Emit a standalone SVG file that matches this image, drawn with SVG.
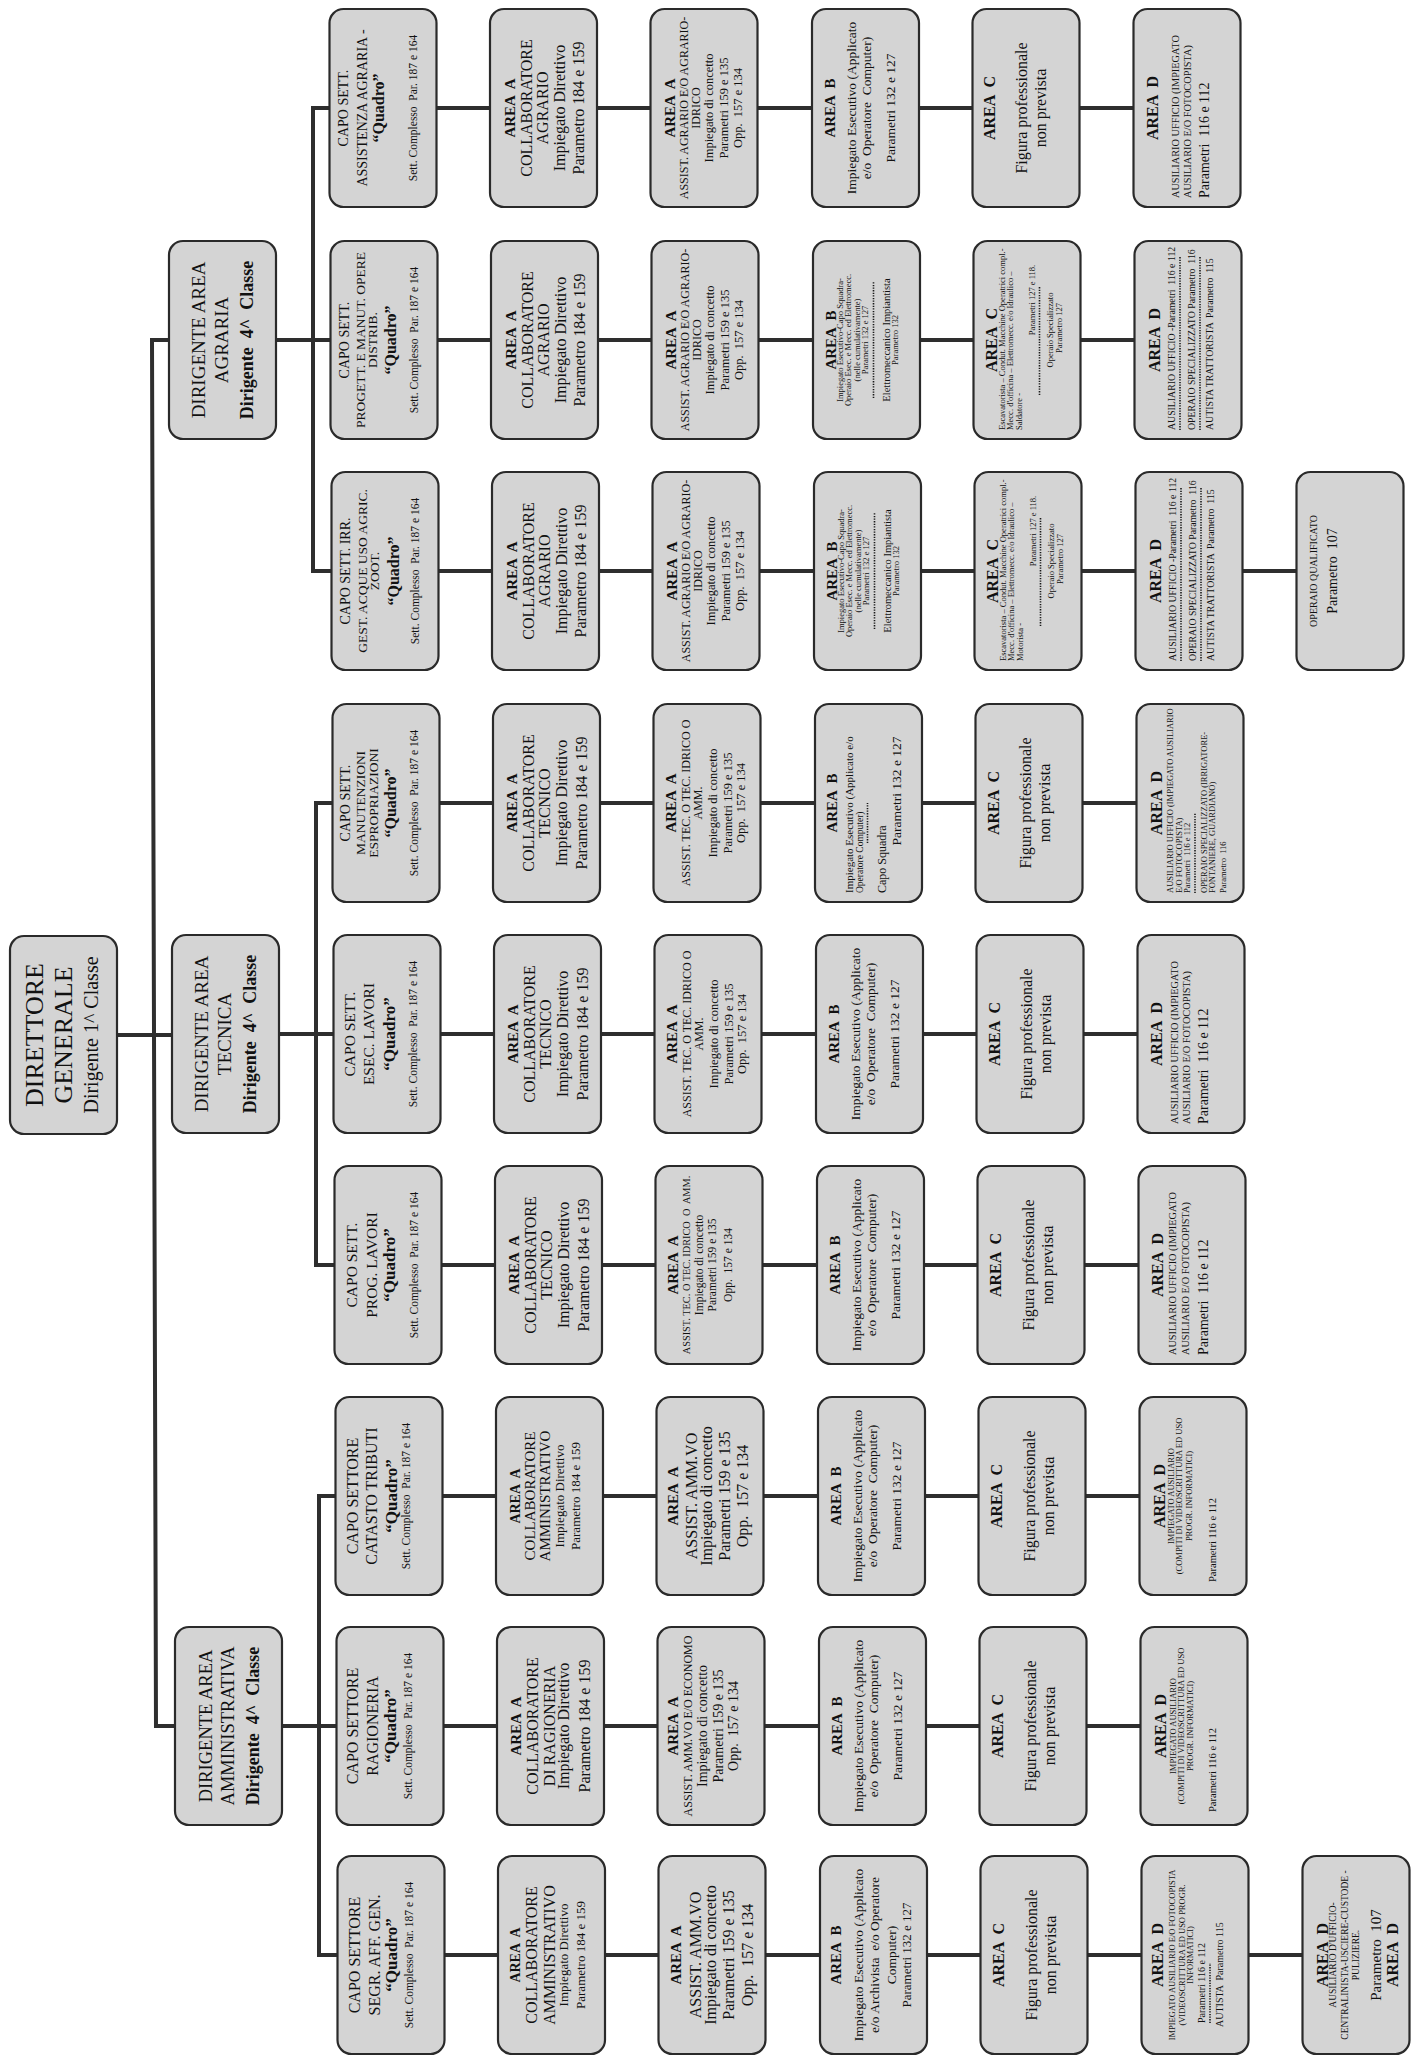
<svg xmlns="http://www.w3.org/2000/svg" xmlns:xlink="http://www.w3.org/1999/xlink" width="1416" height="2058" viewBox="0 0 1416 2058" xml:space="preserve">
<style>
.bx{fill:#d4d4d4;stroke:#2a2a2a;stroke-width:2.2}
text{font-family:"Liberation Serif","Times New Roman",serif;fill:#111111;text-anchor:middle;white-space:pre}
text.s{text-anchor:start}
text.b{font-weight:bold}
.cn line,.cn path{stroke:#2e2e2e;stroke-width:4;fill:none;stroke-linecap:square}
.dot{stroke:#1a1a1a;stroke-width:1.6;stroke-dasharray:1.3 1.3;fill:none}
</style>
<defs>
<rect id="bx" class="bx" x="-99" y="-53.5" width="198" height="107" rx="14"/>
</defs>
<rect width="1416" height="2058" fill="#ffffff"/>
<g id="connectors" class="cn">
<line x1="117" y1="1035" x2="172" y2="1035"/>
<line x1="152" y1="340" x2="156" y2="1726"/>
<line x1="152" y1="340" x2="169" y2="340"/>
<line x1="156" y1="1726" x2="175" y2="1726"/>
<line x1="276" y1="340" x2="330.5" y2="340"/>
<line x1="313" y1="108" x2="313" y2="571"/>
<line x1="313" y1="108" x2="329.5" y2="108"/>
<line x1="313" y1="571" x2="331.5" y2="571"/>
<line x1="279" y1="1034" x2="333.5" y2="1034"/>
<line x1="316" y1="803" x2="316" y2="1265"/>
<line x1="316" y1="803" x2="332.5" y2="803"/>
<line x1="316" y1="1265" x2="334.5" y2="1265"/>
<line x1="282" y1="1726" x2="336.5" y2="1726"/>
<line x1="319" y1="1496" x2="319" y2="1955"/>
<line x1="319" y1="1496" x2="335.5" y2="1496"/>
<line x1="319" y1="1955" x2="337.5" y2="1955"/>
<path transform="translate(0,0)" d="M436.5 108H490M597 108H650.5M757.5 108H812M919 108H972.5M1079.5 108H1133.5"/>
<path transform="translate(1,0)" d="M436.5 340H490M597 340H650.5M757.5 340H812M919 340H972.5M1079.5 340H1133.5"/>
<path transform="translate(2,0)" d="M436.5 571H490M597 571H650.5M757.5 571H812M919 571H972.5M1079.5 571H1133.5M1240.5 571H1294.5"/>
<path transform="translate(3,0)" d="M436.5 803H490M597 803H650.5M757.5 803H812M919 803H972.5M1079.5 803H1133.5"/>
<path transform="translate(4,0)" d="M436.5 1034H490M597 1034H650.5M757.5 1034H812M919 1034H972.5M1079.5 1034H1133.5"/>
<path transform="translate(5,0)" d="M436.5 1265H490M597 1265H650.5M757.5 1265H812M919 1265H972.5M1079.5 1265H1133.5"/>
<path transform="translate(6,0)" d="M436.5 1496H490M597 1496H650.5M757.5 1496H812M919 1496H972.5M1079.5 1496H1133.5"/>
<path transform="translate(7,0)" d="M436.5 1726H490M597 1726H650.5M757.5 1726H812M919 1726H972.5M1079.5 1726H1133.5"/>
<path transform="translate(8,0)" d="M436.5 1955H490M597 1955H650.5M757.5 1955H812M919 1955H972.5M1079.5 1955H1133.5M1240.5 1955H1294.5"/>
</g>

<g id="n-direttore" transform="translate(63.5,1035) rotate(-90)"><use href="#bx"/>
<text font-size="26" y="-21">DIRETTORE</text>
<text font-size="26" y="8.5">GENERALE</text>
<text font-size="20" y="34">Dirigente 1^ Classe</text></g>

<g id="n-dir-agraria" transform="translate(222.5,340) rotate(-90)"><use href="#bx"/>
<text font-size="19" y="-17.5">DIRIGENTE AREA</text>
<text font-size="19" y="5.5">AGRARIA</text>
<text class="b" font-size="18" y="30.5">Dirigente  4^  Classe</text></g>
<g id="n-dir-tecnica" transform="translate(225.5,1034) rotate(-90)"><use href="#bx"/>
<text font-size="19" y="-17.5">DIRIGENTE AREA</text>
<text font-size="19" y="5.5">TECNICA</text>
<text class="b" font-size="18" y="30.5">Dirigente  4^  Classe</text></g>
<g id="n-dir-amm" transform="translate(228.5,1726) rotate(-90)"><use href="#bx"/>
<text font-size="18.5" y="-17">DIRIGENTE AREA</text>
<text font-size="18.5" y="5">AMMINISTRATIVA</text>
<text class="b" font-size="18" y="30">Dirigente  4^  Classe</text></g>

<!-- ROW 0 -->
<g id="r0-capo" transform="translate(383,108) rotate(-90)"><use href="#bx"/>
<text font-size="14" y="-35">CAPO SETT.</text>
<text font-size="14" y="-16">ASSISTENZA AGRARIA -</text>
<text class="b" font-size="16" y="1">“Quadro”</text>
<text font-size="11.5" y="34">Sett. Complesso  Par. 187 e 164</text></g>
<g id="r0-a1" transform="translate(543.5,108) rotate(-90)"><use href="#bx"/>
<text class="b" font-size="15" y="-29">AREA  A</text>
<text font-size="16" y="-12">COLLABORATORE</text>
<text font-size="16" y="4.5">AGRARIO</text>
<text font-size="16" y="21">Impiegato Direttivo</text>
<text font-size="16" y="40.5">Parametro 184 e 159</text></g>
<g id="r0-a2" transform="translate(704,108) rotate(-90)"><use href="#bx"/>
<text class="b" font-size="15" y="-29.5">AREA  A</text>
<text font-size="12" y="-16.5">ASSIST. AGRARIO E/O AGRARIO-</text>
<text font-size="12" y="-4.5">IDRICO</text>
<text font-size="12.5" y="8.5">Impiegato di concetto</text>
<text font-size="12.5" y="23.5">Parametri 159 e 135</text>
<text font-size="12.5" y="37.5">Opp.  157 e 134</text></g>
<g id="r0-b" transform="translate(865.5,108) rotate(-90)"><use href="#bx"/>
<text class="b" font-size="15" y="-31">AREA  B</text>
<text font-size="13.5" y="-10">Impiegato Esecutivo (Applicato</text>
<text font-size="13.5" y="5.5">e/o  Operatore  Computer)</text>
<text font-size="13.5" y="29">Parametri 132 e 127</text></g>
<g id="r0-c" transform="translate(1026,108) rotate(-90)"><use href="#bx"/>
<text class="b" font-size="16" y="-31">AREA  C</text>
<text font-size="16" y="1">Figura professionale</text>
<text font-size="16" y="20">non prevista</text></g>
<g id="r0-d" transform="translate(1187,108) rotate(-90)"><use href="#bx"/>
<text class="b" font-size="16" y="-29.5">AREA  D</text>
<text class="s" font-size="10.3" x="-90" y="-8">AUSILIARIO UFFICIO (IMPIEGATO</text>
<text class="s" font-size="10.3" x="-90" y="4">AUSILIARIO E/O FOTOCOPISTA)</text>
<text class="s" font-size="14" x="-90" y="22">Parametri  116 e 112</text></g>

<!-- ROW 1 -->
<g id="r1-capo" transform="translate(384,340) rotate(-90)"><use href="#bx"/>
<text font-size="14" y="-35.5">CAPO SETT.</text>
<text font-size="13.5" y="-19">PROGETT. E MANUT. OPERE</text>
<text font-size="13.5" y="-7">DISTRIB.</text>
<text class="b" font-size="16" y="12">“Quadro”</text>
<text font-size="11.5" y="34">Sett. Complesso  Par. 187 e 164</text></g>
<g id="r1-a1" transform="translate(544.5,340) rotate(-90)"><use href="#bx"/>
<text class="b" font-size="15" y="-29">AREA  A</text>
<text font-size="16" y="-12">COLLABORATORE</text>
<text font-size="16" y="4.5">AGRARIO</text>
<text font-size="16" y="21">Impiegato Direttivo</text>
<text font-size="16" y="40.5">Parametro 184 e 159</text></g>
<g id="r1-a2" transform="translate(705,340) rotate(-90)"><use href="#bx"/>
<text class="b" font-size="15" y="-29.5">AREA  A</text>
<text font-size="12" y="-16.5">ASSIST. AGRARIO E/O AGRARIO-</text>
<text font-size="12" y="-4.5">IDRICO</text>
<text font-size="12.5" y="8.5">Impiegato di concetto</text>
<text font-size="12.5" y="23.5">Parametri 159 e 135</text>
<text font-size="12.5" y="37.5">Opp.  157 e 134</text></g>
<g id="r1-b" transform="translate(866.5,340) rotate(-90)"><use href="#bx"/>
<text class="b" font-size="15" y="-31">AREA  B</text>
<text font-size="8.5" y="-24">Impiegato Esecutivo-Capo Squadra-</text>
<text font-size="8.5" y="-15.5">Operaio Esec. e Mecc. ed Elettromecc.</text>
<text font-size="8.5" y="-7">(nelle cumulativamente)</text>
<text font-size="8.5" y="1.5">Parametri 132 e 127</text>
<line class="dot" x1="-58" y1="7" x2="58" y2="7"/>
<text font-size="10.5" y="23">Elettromeccanico Impiantista</text>
<text font-size="8.5" y="31">Parametro 132</text></g>
<g id="r1-c" transform="translate(1027,340) rotate(-90)"><use href="#bx"/>
<text class="b" font-size="16" y="-30">AREA  C</text>
<text class="s" font-size="8.5" x="-90" y="-22">Escavatorista – Condut. Macchine Operatrici compl.-</text>
<text class="s" font-size="8.5" x="-90" y="-14">Mecc. d'officina – Elettromecc. e/o Idraulico –</text>
<text class="s" font-size="8.5" x="-90" y="-5.5">Saldatore -</text>
<text font-size="8.5" x="40" y="8">Parametri 127 e 118.</text>
<line class="dot" x1="-55" y1="12.5" x2="53" y2="12.5"/>
<text font-size="8.5" x="10" y="26">Operaio Specializzato</text>
<text font-size="8.5" x="12" y="34.5">Parametro 127</text></g>
<g id="r1-d" transform="translate(1188,340) rotate(-90)"><use href="#bx"/>
<text class="b" font-size="16" y="-28">AREA  D</text>
<text class="s" font-size="9.8" x="-90" y="-13">AUSILIARIO UFFICIO -Parametri  116 e 112</text>
<line class="dot" x1="-90" y1="-8" x2="83" y2="-8"/>
<text class="s" font-size="9.8" x="-90" y="7">OPERAIO SPECIALIZZATO Parametro  116</text>
<line class="dot" x1="-90" y1="12" x2="83" y2="12"/>
<text class="s" font-size="9.8" x="-90" y="25">AUTISTA TRATTORISTA  Parametro  115</text></g>

<!-- ROW 2 -->
<g id="r2-capo" transform="translate(385,571) rotate(-90)"><use href="#bx"/>
<text font-size="14" y="-35">CAPO SETT. IRR.</text>
<text font-size="13.5" y="-18.5">GEST. ACQUE USO AGRIC.</text>
<text font-size="13.5" y="-6.5">ZOOT.</text>
<text class="b" font-size="16" y="14">“Quadro”</text>
<text font-size="11.5" y="34">Sett. Complesso  Par. 187 e 164</text></g>
<g id="r2-a1" transform="translate(545.5,571) rotate(-90)"><use href="#bx"/>
<text class="b" font-size="15" y="-29">AREA  A</text>
<text font-size="16" y="-12">COLLABORATORE</text>
<text font-size="16" y="4.5">AGRARIO</text>
<text font-size="16" y="21">Impiegato Direttivo</text>
<text font-size="16" y="40.5">Parametro 184 e 159</text></g>
<g id="r2-a2" transform="translate(706,571) rotate(-90)"><use href="#bx"/>
<text class="b" font-size="15" y="-29.5">AREA  A</text>
<text font-size="12" y="-16.5">ASSIST. AGRARIO E/O AGRARIO-</text>
<text font-size="12" y="-4.5">IDRICO</text>
<text font-size="12.5" y="8.5">Impiegato di concetto</text>
<text font-size="12.5" y="23.5">Parametri 159 e 135</text>
<text font-size="12.5" y="37.5">Opp.  157 e 134</text></g>
<g id="r2-b" transform="translate(867.5,571) rotate(-90)"><use href="#bx"/>
<text class="b" font-size="15" y="-31">AREA  B</text>
<text font-size="8.5" y="-24">Impiegato Esecutivo-Capo Squadra-</text>
<text font-size="8.5" y="-15.5">Operaio Esec. e Mecc. ed Elettromecc.</text>
<text font-size="8.5" y="-7">(nelle cumulativamente)</text>
<text font-size="8.5" y="1.5">Parametri 132 e 127</text>
<line class="dot" x1="-58" y1="7" x2="58" y2="7"/>
<text font-size="10.5" y="23">Elettromeccanico Impiantista</text>
<text font-size="8.5" y="31">Parametro 132</text></g>
<g id="r2-c" transform="translate(1028,571) rotate(-90)"><use href="#bx"/>
<text class="b" font-size="16" y="-30">AREA  C</text>
<text class="s" font-size="8.5" x="-90" y="-22">Escavatorista – Condut. Macchine Operatrici compl.-</text>
<text class="s" font-size="8.5" x="-90" y="-14">Mecc. d'officina – Elettromecc. e/o Idraulico –</text>
<text class="s" font-size="8.5" x="-90" y="-5.5">Motorista -</text>
<text font-size="8.5" x="40" y="8">Parametri 127 e 118.</text>
<line class="dot" x1="-55" y1="12.5" x2="53" y2="12.5"/>
<text font-size="8.5" x="10" y="26">Operaio Specializzato</text>
<text font-size="8.5" x="12" y="34.5">Parametro 127</text></g>
<g id="r2-d" transform="translate(1189,571) rotate(-90)"><use href="#bx"/>
<text class="b" font-size="16" y="-28">AREA  D</text>
<text class="s" font-size="9.8" x="-90" y="-13">AUSILIARIO UFFICIO -Parametri  116 e 112</text>
<line class="dot" x1="-90" y1="-8" x2="83" y2="-8"/>
<text class="s" font-size="9.8" x="-90" y="7">OPERAIO SPECIALIZZATO Parametro  116</text>
<line class="dot" x1="-90" y1="12" x2="83" y2="12"/>
<text class="s" font-size="9.8" x="-90" y="25">AUTISTA TRATTORISTA  Parametro  115</text></g>
<g id="r2-e" transform="translate(1350,571) rotate(-90)"><use href="#bx"/>
<text font-size="10" y="-33">OPERAIO QUALIFICATO</text>
<text font-size="14" y="-13">Parametro  107</text></g>

<!-- ROW 3 -->
<g id="r3-capo" transform="translate(386,803) rotate(-90)"><use href="#bx"/>
<text font-size="14" y="-36">CAPO SETT.</text>
<text font-size="13.5" y="-21">MANUTENZIONI</text>
<text font-size="13.5" y="-8">ESPROPRIAZIONI</text>
<text class="b" font-size="16" y="10">“Quadro”</text>
<text font-size="11.5" y="32">Sett. Complesso  Par. 187 e 164</text></g>
<g id="r3-a1" transform="translate(546.5,803) rotate(-90)"><use href="#bx"/>
<text class="b" font-size="15" y="-30">AREA  A</text>
<text font-size="16" y="-13">COLLABORATORE</text>
<text font-size="16" y="3.5">TECNICO</text>
<text font-size="16" y="20.5">Impiegato Direttivo</text>
<text font-size="16" y="40">Parametro 184 e 159</text></g>
<g id="r3-a2" transform="translate(707,803) rotate(-90)"><use href="#bx"/>
<text class="b" font-size="15" y="-31">AREA  A</text>
<text font-size="12" y="-17">ASSIST. TEC. O TEC. IDRICO O</text>
<text font-size="12" y="-5">AMM.</text>
<text font-size="12.5" y="9.5">Impiegato di concetto</text>
<text font-size="12.5" y="24.5">Parametri 159 e 135</text>
<text font-size="12.5" y="37.5">Opp.  157 e 134</text></g>
<g id="r3-b" transform="translate(868.5,803) rotate(-90)"><use href="#bx"/>
<text class="b" font-size="15" y="-32">AREA  B</text>
<text class="s" font-size="11" x="-90" y="-16">Impiegato Esecutivo (Applicato e/o</text>
<text class="s" font-size="9.5" x="-90" y="-6">Operatore Computer)</text>
<line class="dot" x1="-40" y1="-1" x2="0" y2="-1"/>
<text class="s" font-size="12" x="-90" y="17">Capo Squadra</text>
<text font-size="13.5" x="12" y="32">Parametri 132 e 127</text></g>
<g id="r3-c" transform="translate(1029,803) rotate(-90)"><use href="#bx"/>
<text class="b" font-size="16" y="-30.5">AREA  C</text>
<text font-size="16" y="2">Figura professionale</text>
<text font-size="16" y="21">non prevista</text></g>
<g id="r3-d" transform="translate(1190,803) rotate(-90)"><use href="#bx"/>
<text class="b" font-size="16" y="-28">AREA  D</text>
<text class="s" font-size="8.5" x="-90" y="-17">AUSILIARIO UFFICIO (IMPIEGATO AUSILIARIO</text>
<text class="s" font-size="8.5" x="-90" y="-8.5">E/O FOTOCOPISTA)</text>
<text class="s" font-size="8.5" x="-90" y="0">Parametri  116 e 112</text>
<line class="dot" x1="-90" y1="5" x2="-10" y2="5"/>
<text class="s" font-size="8.5" x="-90" y="16.5">OPERAIO SPECIALIZZATO (IRRIGATORE-</text>
<text class="s" font-size="8.5" x="-90" y="25">FONTANIERE, GUARDIANO)</text>
<text class="s" font-size="8.5" x="-90" y="36">Parametro  116</text></g>

<!-- ROW 4 -->
<g id="r4-capo" transform="translate(387,1034) rotate(-90)"><use href="#bx"/>
<text font-size="15.5" y="-32">CAPO SETT.</text>
<text font-size="15.5" y="-13">ESEC. LAVORI</text>
<text class="b" font-size="17" y="8">“Quadro”</text>
<text font-size="11.5" y="30">Sett. Complesso  Par. 187 e 164</text></g>
<g id="r4-a1" transform="translate(547.5,1034) rotate(-90)"><use href="#bx"/>
<text class="b" font-size="15" y="-30">AREA  A</text>
<text font-size="16" y="-13">COLLABORATORE</text>
<text font-size="16" y="3.5">TECNICO</text>
<text font-size="16" y="20.5">Impiegato Direttivo</text>
<text font-size="16" y="40">Parametro 184 e 159</text></g>
<g id="r4-a2" transform="translate(708,1034) rotate(-90)"><use href="#bx"/>
<text class="b" font-size="15" y="-31">AREA  A</text>
<text font-size="12" y="-17">ASSIST. TEC. O TEC. IDRICO O</text>
<text font-size="12" y="-5">AMM.</text>
<text font-size="12.5" y="9.5">Impiegato di concetto</text>
<text font-size="12.5" y="24.5">Parametri 159 e 135</text>
<text font-size="12.5" y="37.5">Opp.  157 e 134</text></g>
<g id="r4-b" transform="translate(869.5,1034) rotate(-90)"><use href="#bx"/>
<text class="b" font-size="15" y="-31">AREA  B</text>
<text font-size="13.5" y="-10">Impiegato Esecutivo (Applicato</text>
<text font-size="13.5" y="5">e/o  Operatore  Computer)</text>
<text font-size="13.5" y="29">Parametri 132 e 127</text></g>
<g id="r4-c" transform="translate(1030,1034) rotate(-90)"><use href="#bx"/>
<text class="b" font-size="16" y="-30.5">AREA  C</text>
<text font-size="16" y="2">Figura professionale</text>
<text font-size="16" y="21">non prevista</text></g>
<g id="r4-d" transform="translate(1191,1034) rotate(-90)"><use href="#bx"/>
<text class="b" font-size="16" y="-29.5">AREA  D</text>
<text class="s" font-size="10.3" x="-90" y="-13">AUSILIARIO UFFICIO (IMPIEGATO</text>
<text class="s" font-size="10.3" x="-90" y="-1">AUSILIARIO E/O FOTOCOPISTA)</text>
<text class="s" font-size="14" x="-90" y="17">Parametri  116 e 112</text></g>

<!-- ROW 5 -->
<g id="r5-capo" transform="translate(388,1265) rotate(-90)"><use href="#bx"/>
<text font-size="15.5" y="-31">CAPO SETT.</text>
<text font-size="15.5" y="-11">PROG. LAVORI</text>
<text class="b" font-size="17" y="7">“Quadro”</text>
<text font-size="11.5" y="30">Sett. Complesso  Par. 187 e 164</text></g>
<g id="r5-a1" transform="translate(548.5,1265) rotate(-90)"><use href="#bx"/>
<text class="b" font-size="15" y="-30">AREA  A</text>
<text font-size="16" y="-13">COLLABORATORE</text>
<text font-size="16" y="3.5">TECNICO</text>
<text font-size="16" y="20.5">Impiegato Direttivo</text>
<text font-size="16" y="40">Parametro 184 e 159</text></g>
<g id="r5-a2" transform="translate(709,1265) rotate(-90)"><use href="#bx"/>
<text class="b" font-size="15" y="-31">AREA  A</text>
<text font-size="10.3" y="-19">ASSIST. TEC. O TEC. IDRICO  O  AMM.</text>
<text font-size="11.5" y="-6">Impiegato di concetto</text>
<text font-size="11.5" y="7">Parametri 159 e 135</text>
<text font-size="11.5" y="22.5">Opp.  157 e 134</text></g>
<g id="r5-b" transform="translate(870.5,1265) rotate(-90)"><use href="#bx"/>
<text class="b" font-size="15" y="-31">AREA  B</text>
<text font-size="13.5" y="-10">Impiegato Esecutivo (Applicato</text>
<text font-size="13.5" y="5">e/o  Operatore  Computer)</text>
<text font-size="13.5" y="29">Parametri 132 e 127</text></g>
<g id="r5-c" transform="translate(1031,1265) rotate(-90)"><use href="#bx"/>
<text class="b" font-size="16" y="-30.5">AREA  C</text>
<text font-size="16" y="3">Figura professionale</text>
<text font-size="16" y="22">non prevista</text></g>
<g id="r5-d" transform="translate(1192,1265) rotate(-90)"><use href="#bx"/>
<text class="b" font-size="16" y="-29.5">AREA  D</text>
<text class="s" font-size="10.3" x="-90" y="-16">AUSILIARIO UFFICIO (IMPIEGATO</text>
<text class="s" font-size="10.3" x="-90" y="-3">AUSILIARIO E/O FOTOCOPISTA)</text>
<text class="s" font-size="14" x="-90" y="16">Parametri  116 e 112</text></g>

<!-- ROW 6 -->
<g id="r6-capo" transform="translate(389,1496) rotate(-90)"><use href="#bx"/>
<text font-size="16" y="-31">CAPO SETTORE</text>
<text font-size="16" y="-12">CATASTO TRIBUTI</text>
<text class="b" font-size="17" y="7.5">“Quadro”</text>
<text font-size="11.5" y="21">Sett. Complesso  Par. 187 e 164</text></g>
<g id="r6-a1" transform="translate(549.5,1496) rotate(-90)"><use href="#bx"/>
<text class="b" font-size="14" y="-29.5">AREA  A</text>
<text font-size="15" y="-14.5">COLLABORATORE</text>
<text font-size="15" y="0.5">AMMINISTRATIVO</text>
<text font-size="13" y="14">Impiegato Direttivo</text>
<text font-size="13" y="30.5">Parametro 184 e 159</text></g>
<g id="r6-a2" transform="translate(710,1496) rotate(-90)"><use href="#bx"/>
<text class="b" font-size="15" y="-32">AREA  A</text>
<text font-size="16" y="-13">ASSIST. AMM.VO</text>
<text font-size="16" y="2">Impiegato di concetto</text>
<text font-size="16" y="20">Parametri 159 e 135</text>
<text font-size="16" y="38">Opp.  157 e 134</text></g>
<g id="r6-b" transform="translate(871.5,1496) rotate(-90)"><use href="#bx"/>
<text class="b" font-size="15" y="-31">AREA  B</text>
<text font-size="13.5" y="-10">Impiegato Esecutivo (Applicato</text>
<text font-size="13.5" y="5">e/o  Operatore  Computer)</text>
<text font-size="13.5" y="29">Parametri 132 e 127</text></g>
<g id="r6-c" transform="translate(1032,1496) rotate(-90)"><use href="#bx"/>
<text class="b" font-size="16" y="-30.5">AREA  C</text>
<text font-size="16" y="3">Figura professionale</text>
<text font-size="16" y="22">non prevista</text></g>
<g id="r6-d" transform="translate(1193,1496) rotate(-90)"><use href="#bx"/>
<text class="b" font-size="16" y="-28">AREA  D</text>
<text font-size="8.5" y="-19.5">IMPIEGATO AUSILIARIO</text>
<text font-size="8.5" y="-11">(COMPITI DI VIDEOSCRITTURA ED USO</text>
<text font-size="8.5" y="-1.5">PROGR. INFORMATICI)</text>
<text class="s" font-size="10.5" x="-86" y="23">Parametri 116 e 112</text></g>

<!-- ROW 7 -->
<g id="r7-capo" transform="translate(390,1726) rotate(-90)"><use href="#bx"/>
<text font-size="16" y="-32">CAPO SETTORE</text>
<text font-size="16" y="-12">RAGIONERIA</text>
<text class="b" font-size="17" y="5.5">“Quadro”</text>
<text font-size="11.5" y="21.5">Sett. Complesso  Par. 187 e 164</text></g>
<g id="r7-a1" transform="translate(550.5,1726) rotate(-90)"><use href="#bx"/>
<text class="b" font-size="15" y="-30">AREA  A</text>
<text font-size="16" y="-13">COLLABORATORE</text>
<text font-size="16" y="4.5">DI RAGIONERIA</text>
<text font-size="16" y="18">Impiegato Direttivo</text>
<text font-size="16" y="39.5">Parametro 184 e 159</text></g>
<g id="r7-a2" transform="translate(711,1726) rotate(-90)"><use href="#bx"/>
<text class="b" font-size="15" y="-33">AREA  A</text>
<text font-size="12" y="-19">ASSIST. AMM.VO E/O ECONOMO</text>
<text font-size="14" y="-4">Impiegato di concetto</text>
<text font-size="14" y="12">Parametri 159 e 135</text>
<text font-size="14" y="27">Opp.  157 e 134</text></g>
<g id="r7-b" transform="translate(872.5,1726) rotate(-90)"><use href="#bx"/>
<text class="b" font-size="15" y="-31">AREA  B</text>
<text font-size="13.5" y="-10">Impiegato Esecutivo (Applicato</text>
<text font-size="13.5" y="5">e/o  Operatore  Computer)</text>
<text font-size="13.5" y="29">Parametri 132 e 127</text></g>
<g id="r7-c" transform="translate(1033,1726) rotate(-90)"><use href="#bx"/>
<text class="b" font-size="16" y="-30.5">AREA  C</text>
<text font-size="16" y="3">Figura professionale</text>
<text font-size="16" y="22">non prevista</text></g>
<g id="r7-d" transform="translate(1194,1726) rotate(-90)"><use href="#bx"/>
<text class="b" font-size="16" y="-28">AREA  D</text>
<text font-size="8.5" y="-18">IMPIEGATO AUSILIARIO</text>
<text font-size="8.5" y="-10.5">(COMPITI DI VIDEOSCRITTURA ED USO</text>
<text font-size="8.5" y="-1.5">PROGR. INFORMATICI)</text>
<text class="s" font-size="10.5" x="-86" y="22">Parametri 116 e 112</text></g>

<!-- ROW 8 -->
<g id="r8-capo" transform="translate(391,1955) rotate(-90)"><use href="#bx"/>
<text font-size="16" y="-31">CAPO SETTORE</text>
<text font-size="16" y="-11">SEGR. AFF. GEN.</text>
<text class="b" font-size="17" y="6">“Quadro”</text>
<text font-size="11.5" y="22">Sett. Complesso  Par. 187 e 164</text></g>
<g id="r8-a1" transform="translate(551.5,1955) rotate(-90)"><use href="#bx"/>
<text class="b" font-size="14" y="-31.5">AREA  A</text>
<text font-size="16" y="-15">COLLABORATORE</text>
<text font-size="16" y="3.5">AMMINISTRATIVO</text>
<text font-size="13" y="16.5">Impiegato Direttivo</text>
<text font-size="13" y="33.5">Parametro 184 e 159</text></g>
<g id="r8-a2" transform="translate(712,1955) rotate(-90)"><use href="#bx"/>
<text class="b" font-size="15" y="-31.5">AREA  A</text>
<text font-size="16" y="-11.5">ASSIST. AMM.VO</text>
<text font-size="16" y="3.5">Impiegato di concetto</text>
<text font-size="16" y="21.5">Parametri 159 e 135</text>
<text font-size="16" y="40.5">Opp.  157 e 134</text></g>
<g id="r8-b" transform="translate(873.5,1955) rotate(-90)"><use href="#bx"/>
<text class="b" font-size="15" y="-33">AREA  B</text>
<text font-size="13.5" y="-11">Impiegato Esecutivo (Applicato</text>
<text font-size="13.5" y="5">e/o Archivista  e/o Operatore</text>
<text font-size="13.5" y="22">Computer)</text>
<text font-size="13" y="37">Parametri 132 e 127</text></g>
<g id="r8-c" transform="translate(1034,1955) rotate(-90)"><use href="#bx"/>
<text class="b" font-size="16" y="-30.5">AREA  C</text>
<text font-size="16" y="3">Figura professionale</text>
<text font-size="16" y="22">non prevista</text></g>
<g id="r8-d" transform="translate(1195,1955) rotate(-90)"><use href="#bx"/>
<text class="b" font-size="16" y="-32">AREA  D</text>
<text font-size="8.5" y="-20">IMPIEGATO AUSILIARIO E/O FOTOCOPISTA</text>
<text font-size="8.5" y="-10">(VIDEOSCRITTURA ED USO PROGR.</text>
<text font-size="8.5" y="-2">INFORMATICI)</text>
<text class="s" font-size="10" x="-68" y="10">Parametri 116 e 112</text>
<line class="dot" x1="-68" y1="15" x2="-8" y2="15"/>
<text class="s" font-size="10" x="-72" y="28">AUTISTA  Parametro 115</text></g>
<g id="r8-e" transform="translate(1356,1955) rotate(-90)"><use href="#bx"/>
<text class="b" font-size="16" y="-28.5">AREA  D</text>
<text font-size="9.5" y="-20">AUSILIARIO D'UFFICIO-</text>
<text font-size="9.5" y="-8.5">CENTRALINISTA-USCIERE-CUSTODE -</text>
<text font-size="9.5" y="3">PULIZIERE.</text>
<text font-size="15" y="25">Parametro  107</text>
<text class="b" font-size="16" y="41.5">AREA  D</text></g>
</svg>
